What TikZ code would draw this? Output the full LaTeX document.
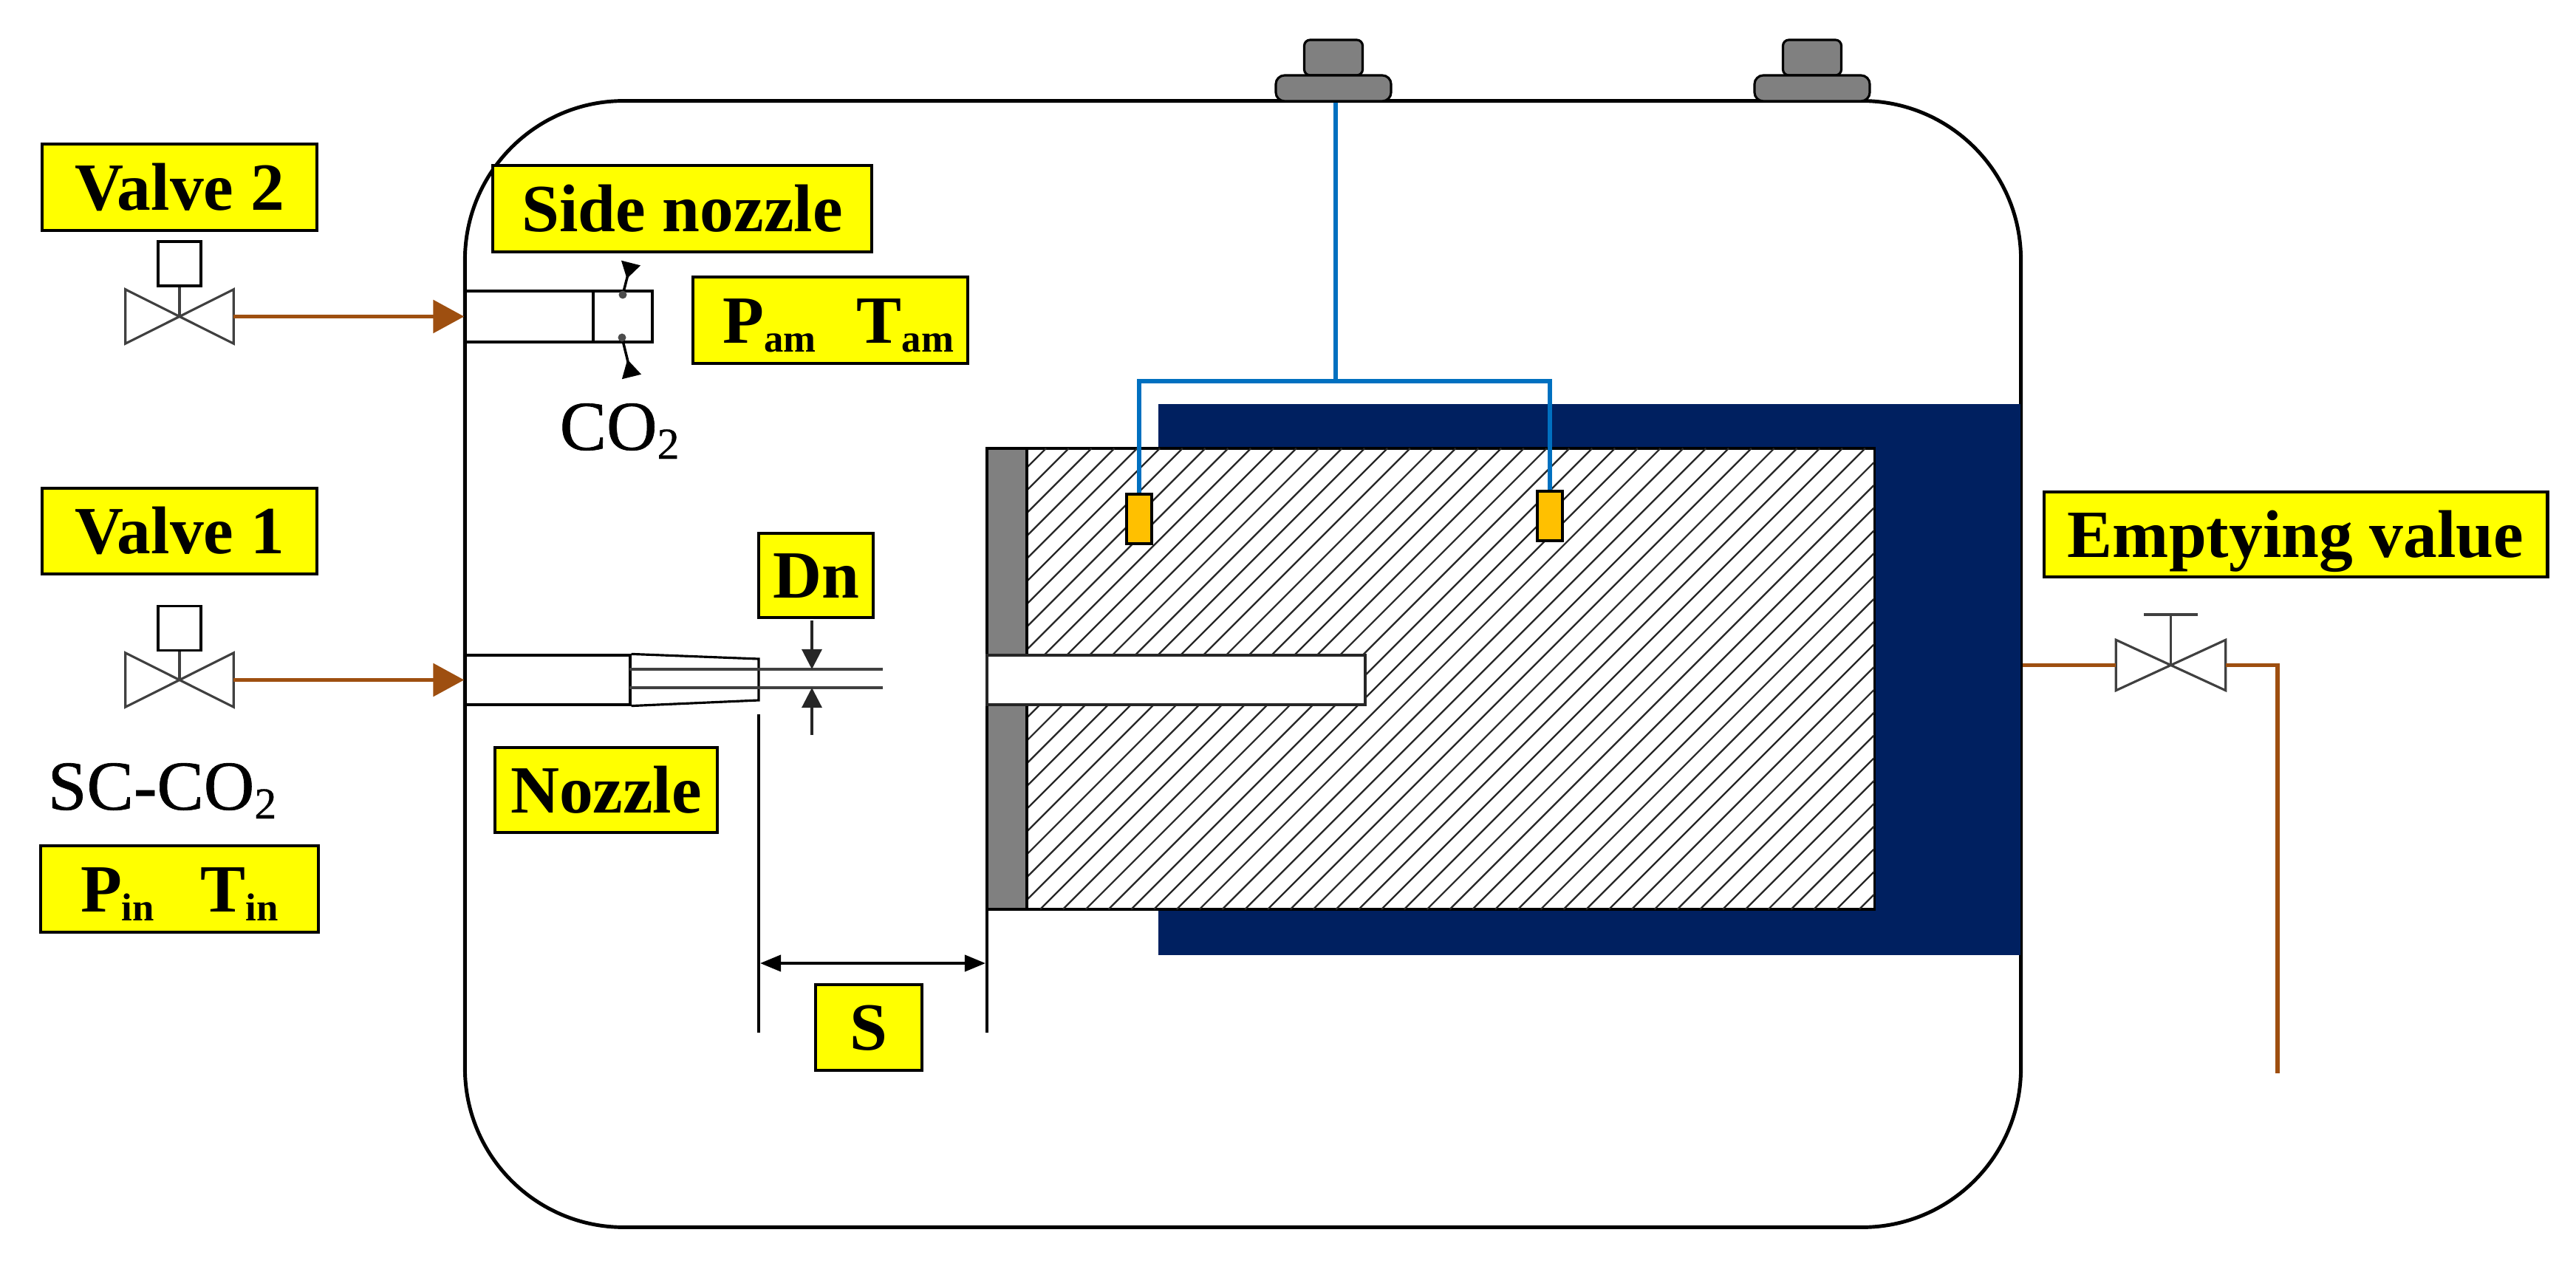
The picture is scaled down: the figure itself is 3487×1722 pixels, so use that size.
\documentclass[tikz,border=0pt]{standalone}
\usepackage{fontspec}
\setmainfont{Liberation Serif}
\newfontfamily\plainface[FakeBold=.7]{Liberation Serif}
\usetikzlibrary{arrows.meta}
\definecolor{tagyellow}{HTML}{FFFF00}
\definecolor{pipebrown}{HTML}{9E4F10}
\definecolor{wireblue}{HTML}{0070C0}
\definecolor{coolnavy}{HTML}{002060}
\definecolor{probeamber}{HTML}{FFC000}
\newcommand{\tagsub}[1]{\raisebox{-.12cm}{\fontsize{15}{15}\selectfont #1}}
\tikzset{
 tag/.style={draw,fill=tagyellow,line width=1.3pt,inner sep=0pt,text height=.61cm,text depth=0pt,font=\fontsize{26}{30}\selectfont\bfseries},
 plain/.style={inner sep=0pt,anchor=base west,font=\fontsize{27}{30}\plainface\selectfont},
 pipe/.style={pipebrown,line width=1.7pt},
 wire/.style={wireblue,line width=1.6pt},
 thin line/.style={line width=.9pt,black!75},
 bowtie/.style={inner sep=0pt,minimum width=1.45cm,minimum height=.72cm},
 actuator/.style={draw,fill=white,line width=.9pt,inner sep=0pt,minimum width=.58cm,minimum height=.6cm},
 cap top/.style={draw,fill=gray,line width=.9pt,rounded corners=.08cm,inner sep=0pt,minimum width=.79cm,minimum height=.48cm},
 cap base/.style={draw,fill=gray,line width=.9pt,rounded corners=.12cm,inner sep=0pt,minimum width=1.56cm,minimum height=.35cm},
 probe/.style={draw,fill=probeamber,line width=1pt,inner sep=0pt,minimum width=.34cm,minimum height=.67cm}
}
\begin{document}
\begin{tikzpicture}[x=.01cm,y=-.01cm,>=Latex]
\useasboundingbox (0,0) rectangle (3487,1722);
\node[draw,line width=1.4pt,rounded corners=2.15cm,inner sep=0pt,minimum width=21.05cm,minimum height=15.24cm] (tank) at(1682.5,899){};
\node[cap top] (c1t) at(1805,78){};\node[cap base] (c1b) at(1805,119.5){};
\node[cap top] (c2t) at(2453,78){};\node[cap base] (c2b) at(2453,119.5){};
\node[fill=coolnavy,inner sep=0pt,minimum width=11.67cm,minimum height=7.46cm] (jacket) at(2151.5,920){};
\node[draw,fill=white,line width=1pt,inner sep=0pt,minimum width=12.01cm,minimum height=6.24cm] (block) at(1936.5,919){};
\begin{scope}
\clip (1390,607) rectangle (2537,1231);
\foreach \hx in {0,30.8,...,1790}
 \draw[line width=.65pt,black!85] (761.2+\hx,1231)--(1385.2+\hx,607);
\end{scope}
\node[draw,fill=gray,line width=1pt,inner sep=0pt,minimum width=.54cm,minimum height=6.24cm] (plate) at(1363,919){};
\node[draw=black!85,fill=white,line width=1pt,inner sep=0pt,minimum width=5.12cm,minimum height=.67cm] (hole) at(1592,920.5){};
\node[probe] (p1) at(1542,702.5){};
\node[probe] (p2) at(2098,698.5){};
\coordinate (jn) at(1808,516);
\draw[wire] (jn)--(jn|-c1b.south);
\draw[wire] (p1.north)|-(jn)-|(p2.north);
% valves on the left
\node[bowtie] (v2) at(243,428.5){};
\node[actuator] (a2) at(243,357){};
\draw[thin line] (v2.north west)--(v2.south east)--(v2.north east)--(v2.south west)--cycle;
\draw[thin line] (a2.south)--(v2.center);
\node[bowtie] (v1) at(243,920.5){};
\node[actuator] (a1) at(243,850.5){};
\draw[thin line] (v1.north west)--(v1.south east)--(v1.north east)--(v1.south west)--cycle;
\draw[thin line] (a1.south)--(v1.center);
\node[draw,line width=.9pt,inner sep=0pt,minimum width=2.53cm,minimum height=.69cm] (sn) at(756.5,428.5){};
\node[draw,line width=.9pt,inner sep=0pt,minimum width=.8cm,minimum height=.69cm] (st) at(843,428.5){};
\node[draw,line width=.9pt,inner sep=0pt,minimum width=2.23cm,minimum height=.67cm] (nz) at(741.5,920.5){};
\draw[pipe,-{Triangle[length=.42cm,width=.44cm]}] (v2.east)--(sn.west);
\draw[pipe,-{Triangle[length=.42cm,width=.44cm]}] (v1.east)--(nz.west);
\coordinate (h1) at(843,399);\coordinate (h2) at(842,457);
\coordinate (o1) at(854,356);\coordinate (o2) at(855,510);
\draw[line width=1pt,-{Triangle[reversed,length=.22cm,width=.26cm]}] (h1)--(o1);
\draw[line width=1pt,-{Triangle[reversed,length=.24cm,width=.26cm]}] (h2)--(o2);
\fill[black!70] (h1) circle(.055cm);\fill[black!70] (h2) circle(.055cm);
\coordinate (t1) at(1027,892);\coordinate (t2) at(1027,948);
\draw[line width=.9pt] (nz.north east)--(t1)--(t2)--(nz.south east);
\coordinate (j1) at(852,906);\coordinate (j2) at(1195,906);
\coordinate (j3) at(852,931);\coordinate (j4) at(1195,931);
\draw[thin line] (j1)--(j2);\draw[thin line] (j3)--(j4);
\node[tag,minimum width=1.55cm,minimum height=1.14cm] (dn) at(1104.5,779){Dn};
\coordinate (d1) at(1099,840);\coordinate (d2) at(1099,906);
\coordinate (d3) at(1099,995);\coordinate (d4) at(1099,931);
\draw[line width=.9pt,black!85,-{Triangle[length=.27cm,width=.27cm]}] (d1)--(d2);
\draw[line width=.9pt,black!85,-{Triangle[length=.27cm,width=.27cm]}] (d3)--(d4);
% dimension S
\coordinate (e1) at(1027,967);\coordinate (e2) at(1027,1398);
\coordinate (e3) at(1336,1232);\coordinate (e4) at(1336,1398);
\draw[line width=.9pt] (e1)--(e2);\draw[line width=.9pt] (e3)--(e4);
\coordinate (m1) at(1029,1304);\coordinate (m2) at(1334,1304);
\draw[line width=1.1pt,{Triangle[length=.28cm,width=.22cm]}-{Triangle[length=.28cm,width=.22cm]}] (m1)--(m2);
% emptying valve
\node[bowtie,minimum width=1.47cm,minimum height=.67cm] (v3) at(2938.5,900.5){};
\coordinate (hb) at(2938.5,832);
\coordinate (hl) at(2902,832);\coordinate (hr) at(2975,832);
\coordinate (dr) at(3083,1453);
\draw[thin line] (v3.north west)--(v3.south east)--(v3.north east)--(v3.south west)--cycle;
\draw[thin line] (hb)--(v3.center);\draw[thin line] (hl)--(hr);
\draw[pipe] (v3.west-|tank.east)--(v3.west);
\draw[pipe] (v3.east)-|(dr);
\node[tag,minimum width=3.72cm,minimum height=1.17cm] (lv2) at(243,253.5){Valve 2};
\node[tag,minimum width=3.72cm,minimum height=1.16cm] (lv1) at(243,719){Valve 1};
\node[tag,minimum width=5.13cm,minimum height=1.17cm] (lsn) at(923.5,282.5){Side nozzle};
\node[tag,minimum width=3.72cm,minimum height=1.17cm] (lam) at(1124,433.5){\hspace*{.22cm}P\tagsub{am}\hspace{.55cm}T\tagsub{am}};
\node[tag,minimum width=3.01cm,minimum height=1.15cm] (lnz) at(820.5,1069.5){Nozzle};
\node[tag,minimum width=3.76cm,minimum height=1.17cm] (lin) at(243,1203.5){P\tagsub{in}\hspace{.63cm}T\tagsub{in}};
\node[tag,minimum width=1.44cm,minimum height=1.16cm] (ls) at(1176,1391){S};
\node[tag,minimum width=6.81cm,minimum height=1.15cm] (lev) at(3107.5,723.5){Emptying value};
\node[plain] (lco) at(757,609){CO\raisebox{-.12cm}{\fontsize{17}{17}\selectfont 2}};
\node[plain] (lsc) at(64,1096){SC-CO\raisebox{-.12cm}{\fontsize{17}{17}\selectfont 2}};
\end{tikzpicture}
\end{document}
